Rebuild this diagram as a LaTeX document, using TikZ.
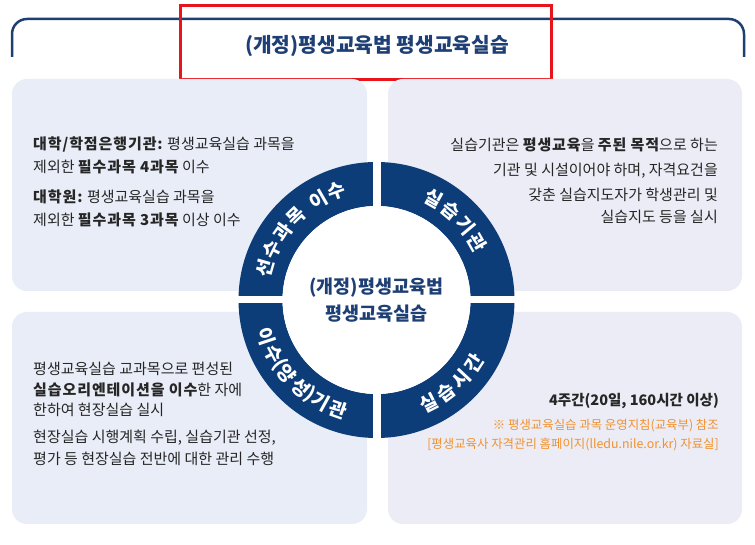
\documentclass[tikz,border=0pt]{standalone}
\usepackage{fontspec}
\setmainfont{Noto Sans CJK KR}
\definecolor{ringblue}{HTML}{0C3D78}
\definecolor{hdrblue}{HTML}{1D3F72}
\definecolor{titleblue}{HTML}{1E3F75}
\definecolor{panelA}{HTML}{E9EDF7}
\definecolor{panelB}{HTML}{ECECF6}
\definecolor{bodytxt}{HTML}{262626}
\definecolor{noteorange}{HTML}{F0922F}
\definecolor{redbox}{HTML}{E8141B}
\newcommand{\bw}[1]{{\bfseries\addfontfeatures{LetterSpace=6}#1}}
\begin{document}
\begin{tikzpicture}[x=1pt,y=1pt,
  panelL/.style={fill=panelA, rounded corners=15pt},
  panelR/.style={fill=panelB, rounded corners=15pt},
  body/.style={font=\fontsize{15}{17}\selectfont, text=bodytxt, inner sep=0pt, text height=0.82em, text depth=0.1em},
  note/.style={font=\fontsize{12.4}{14}\selectfont, text=noteorange, inner sep=0pt, anchor=east, text height=0.82em, text depth=0.1em},
  ringtxt/.style={font=\bfseries\fontsize{19}{19}\selectfont, text=white, inner sep=0pt},
  centertxt/.style={font=\bfseries\fontsize{18.5}{20}\selectfont, text=titleblue, inner sep=0pt}]
\useasboundingbox (0,0) rectangle (755,545);
\fill[white] (0,0) rectangle (755,545);
% header frame
\draw[hdrblue, line width=2.5pt, rounded corners=15pt] (12,488) -- (12,526) -- (744,526) -- (744,488);
\node[font=\bfseries\fontsize{20.3}{22}\selectfont, text=titleblue, inner sep=0pt] (title) at (377,499) {(개정)평생교육법 평생교육실습};
\draw[redbox, line width=3pt] (180,465) rectangle (551,539.5);
% panels
\path[panelL] (12,254) rectangle (367,466);
\path[panelR] (388,254) rectangle (742,466);
\path[panelL] (12,21) rectangle (367,233);
\path[panelR] (388,21) rectangle (742,233);
% ring
\coordinate (C) at (376.5,245);
\fill[ringblue, even odd rule] (C) circle (138) (C) circle (94);
\fill[white] (372.5,100) rectangle (380.5,390);
\fill[white] (230,241.5) rectangle (523,248.5);
\fill[white] (C) circle (94);
\node[centertxt] (c1) at (376.5,257) {(개정)평생교육법};
\node[centertxt] (c2) at (376.5,231) {평생교육실습};
% ring labels
\foreach \a/\c in {164/선,154/수,144/과,134/목,120/이,110/수}
  \node[ringtxt, rotate=\a-90] at ([shift={(\a:116)}]C) {\c};
\foreach \a/\c in {60.5/실,50.2/습,39.8/기,29.5/관}
  \node[ringtxt, rotate=\a-90] at ([shift={(\a:116)}]C) {\c};
\foreach \a/\c in {-63/실,-53/습,-43/시,-33/간}
  \node[ringtxt, rotate=\a+90] at ([shift={(\a:116)}]C) {\c};
\foreach \a/\c in {198.5/이,208/수,219.5/양,229/성,241/기,250.5/관}
  \node[ringtxt, rotate=\a+90] at ([shift={(\a:116)}]C) {\c};
\node[ringtxt, rotate=213.5+90] (lp) at ([shift={(213.5:116)}]C) {(};
\node[ringtxt, rotate=235+90] (rp) at ([shift={(235:116)}]C) {)};
% top-left text
\node[body, anchor=west] (tl1) at (33,399) {\bw{대학/학점은행기관:} 평생교육실습 과목을};
\node[body, anchor=west] (tl2) at (33,376) {제외한 \bw{필수과목 4과목} 이수};
\node[body, anchor=west] (tl3) at (33,346) {\bw{대학원:} 평생교육실습 과목을};
\node[body, anchor=west] (tl4) at (33,323) {제외한 \bw{필수과목 3과목} 이상 이수};
% top-right text
\node[body, anchor=east] (tr1) at (718,398) {실습기관은 \bw{평생교육}을 \bw{주된 목적}으로 하는};
\node[body, anchor=east] (tr2) at (718,373) {기관 및 시설이어야 하며, 자격요건을};
\node[body, anchor=east] (tr3) at (718,348) {갖춘 실습지도자가 학생관리 및};
\node[body, anchor=east] (tr4) at (718,326) {실습지도 등을 실시};
% bottom-left text
\node[body, anchor=west] (bl1) at (33,174) {평생교육실습 교과목으로 편성된};
\node[body, anchor=west] (bl2) at (33,153) {\bw{실습오리엔테이션을 이수}한 자에};
\node[body, anchor=west] (bl3) at (33,133) {한하여 현장실습 실시};
\node[body, anchor=west] (bl4) at (33,106) {현장실습 시행계획 수립, 실습기관 선정,};
\node[body, anchor=west] (bl5) at (33,84) {평가 등 현장실습 전반에 대한 관리 수행};
% bottom-right text
\node[body, anchor=east, font=\bfseries\fontsize{14.5}{17}\selectfont] (br1) at (719,143) {4주간(20일, 160시간 이상)};
\node[note] (br2) at (719,119) {※ 평생교육실습 과목 운영지침(교육부) 참조};
\node[note] (br3) at (719,100) {[평생교육사 자격관리 홈페이지(lledu.nile.or.kr) 자료실]};
\end{tikzpicture}
\end{document}
